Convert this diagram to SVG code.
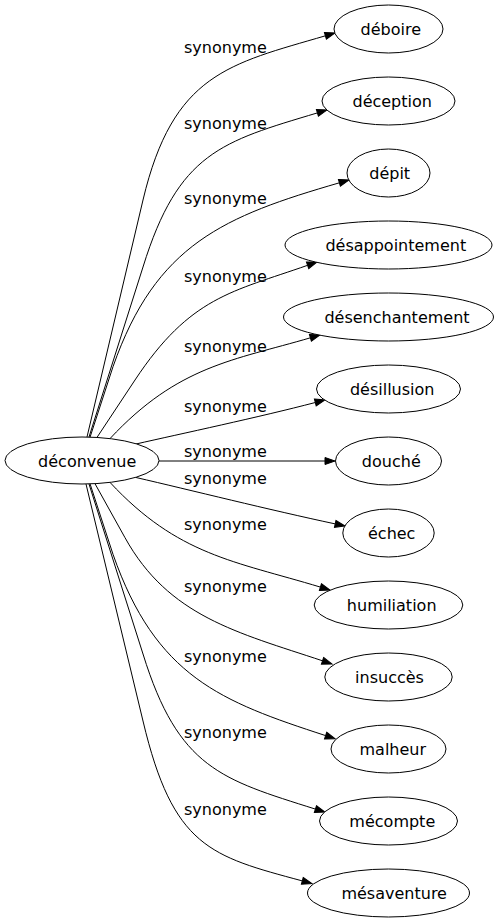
<svg xmlns="http://www.w3.org/2000/svg" width="498" height="923" viewBox="0 0 498 923">
<style>
.n ellipse{fill:#fff;stroke:#000;stroke-width:1}
.n text{font-family:"DejaVu Sans",sans-serif;font-size:16px;fill:#000;text-anchor:middle}
.e path{fill:none;stroke:#000;stroke-width:1;marker-end:url(#arr)}
.l text{font-family:"DejaVu Sans",sans-serif;font-size:16px;fill:#000}
</style>
<defs>
<marker id="arr" markerWidth="10" markerHeight="7" refX="0" refY="3.5" orient="auto" markerUnits="userSpaceOnUse" overflow="visible">
<path d="M0,0 L10,3.5 L0,7 z" fill="#000" stroke="#000" stroke-width="1"/>
</marker>
</defs>
<rect width="498" height="923" fill="#fff"/>
<g id="edges" class="e">
<path d="M87,437 L143,200 C173,73.6 229,64 325.4,35.8"/>
<path d="M89,437 L143,267 C178.5,152.4 221.6,141.6 317.4,112.9"/>
<path d="M90,437.3 L113,366.7 C155.9,244 224.2,216.2 339.4,182.8"/>
<path d="M97,437.4 L135,380 C190.2,296.6 232.2,291.8 307.6,265.3"/>
<path d="M110,438.6 C178,365.6 233.6,360.3 310.4,337.8"/>
<path d="M136,444 C180,434 260,417 315.3,402.5"/>
<path d="M159,461 L325,461"/>
<path d="M136,477.5 C190,490 270,510 335.2,523.9"/>
<path d="M110,482.4 C178,555.4 234,561 320.4,587.1"/>
<path d="M95,483.7 L125,537.7 C168.7,616.4 237.1,632.4 322.5,660.8"/>
<path d="M90,483.7 L113,554.3 C155.9,677 221,701.5 325.6,735.6"/>
<path d="M89,484 L143,654 C178.5,768.6 221.6,779.4 315.4,809.1"/>
<path d="M86,484 L143,721 C173,847.4 210.5,856.2 302.3,880.9"/>
</g>
<g id="labels" class="l">
<text x="184" y="53">synonyme</text>
<text x="184" y="129">synonyme</text>
<text x="184" y="204">synonyme</text>
<text x="184" y="282">synonyme</text>
<text x="184" y="352">synonyme</text>
<text x="184" y="412">synonyme</text>
<text x="184" y="457">synonyme</text>
<text x="184" y="484">synonyme</text>
<text x="184" y="530">synonyme</text>
<text x="184" y="592">synonyme</text>
<text x="184" y="662">synonyme</text>
<text x="184" y="738">synonyme</text>
<text x="184" y="815">synonyme</text>
</g>
<g id="n0" class="n"><ellipse cx="82" cy="460.5" rx="77" ry="23.5"/><text x="87.2" y="467">déconvenue</text></g>
<g id="n1" class="n"><ellipse cx="388.5" cy="29" rx="54.5" ry="24"/><text x="390.8" y="35">déboire</text></g>
<g id="n2" class="n"><ellipse cx="388.5" cy="101" rx="66.5" ry="24"/><text x="392.2" y="107">déception</text></g>
<g id="n3" class="n"><ellipse cx="388.5" cy="173" rx="41.5" ry="24"/><text x="389.7" y="179">dépit</text></g>
<g id="n4" class="n"><ellipse cx="388.5" cy="245" rx="103.5" ry="24"/><text x="395.8" y="251">désappointement</text></g>
<g id="n5" class="n"><ellipse cx="388.5" cy="317" rx="105" ry="24"/><text x="397" y="323">désenchantement</text></g>
<g id="n6" class="n"><ellipse cx="388.5" cy="389" rx="72" ry="24"/><text x="392.2" y="395">désillusion</text></g>
<g id="n7" class="n"><ellipse cx="388.5" cy="461" rx="53" ry="24"/><text x="391.3" y="467">douché</text></g>
<g id="n8" class="n"><ellipse cx="388.5" cy="533" rx="45.7" ry="24"/><text x="391.7" y="539">échec</text></g>
<g id="n9" class="n"><ellipse cx="388.5" cy="605" rx="74.3" ry="24"/><text x="391.7" y="611">humiliation</text></g>
<g id="n10" class="n"><ellipse cx="388.5" cy="677" rx="63.7" ry="24"/><text x="389.5" y="683">insuccès</text></g>
<g id="n11" class="n"><ellipse cx="388.5" cy="749" rx="57.5" ry="24"/><text x="392.8" y="755">malheur</text></g>
<g id="n12" class="n"><ellipse cx="388.5" cy="821" rx="69" ry="24"/><text x="392.3" y="827">mécompte</text></g>
<g id="n13" class="n"><ellipse cx="388.5" cy="893" rx="81" ry="24"/><text x="394.2" y="899">mésaventure</text></g>
</svg>
